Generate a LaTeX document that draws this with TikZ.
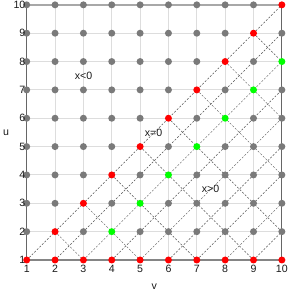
\documentclass[tikz,border=0pt]{standalone}
\usepackage{fontspec}
\setmainfont{Liberation Sans}
\usetikzlibrary{backgrounds}
\definecolor{dotgray}{HTML}{7A7A7A}
\definecolor{dotred}{HTML}{FF0000}
\definecolor{dotgreen}{HTML}{00FF00}
\definecolor{gridc}{HTML}{DDDDDD}
\definecolor{axisc}{HTML}{666666}
\definecolor{topc}{HTML}{A8A8A8}
\definecolor{dashc}{HTML}{505050}
\definecolor{txtc}{HTML}{1A1A1A}
\tikzset{
  dot/.style={circle, inner sep=0pt, minimum size=7pt, draw=none},
  gridline/.style={gridc, line width=1pt},
  axisline/.style={axisc, line width=1pt},
  topline/.style={topc, line width=1.8pt},
  ray/.style={dashc, line width=0.45pt, dash pattern=on 2pt off 1.6pt},
  lbl/.style={text=txtc, font=\fontsize{10.6}{12}\selectfont, inner sep=0pt},
}
\begin{document}
\begin{tikzpicture}
\useasboundingbox (0pt,0pt) rectangle (288pt,291pt);
\begin{scope}[x=28.35pt, y=28.35pt, shift={(-1.65pt,2.65pt)}]
  % dots
  \foreach \v in {1,...,10} {
    \foreach \u in {1,...,10} {
      \def\col{dotgray}
      \ifnum\u=1 \def\col{dotred}\fi
      \ifnum\u=\v \def\col{dotred}\fi
      \pgfmathtruncatemacro\d{\v-\u}
      \ifnum\d=2 \ifnum\u>1 \def\col{dotgreen}\fi\fi
      \node[dot, fill=\col] (p-\v-\u) at (\v,\u) {};
    }
  }
  \begin{scope}[on background layer]
    % grid
    \foreach \i in {2,...,9} {
      \draw[gridline] (\i,1) -- (\i,10);
      \draw[gridline] (1,\i) -- (10,\i);
    }
    % rays of slope +1 from the bottom row
    \foreach \k in {1,...,9} {
      \pgfmathtruncatemacro\e{11-\k}
      \draw[ray] (p-\k-1.center) -- (p-10-\e.center);
    }
    % rays of slope -1 from the diagonal
    \foreach \k in {2,...,9} {
      \pgfmathtruncatemacro\b{2*\k-1}
      \ifnum\b>10
        \pgfmathtruncatemacro\r{2*\k-10}
        \draw[ray] (p-\k-\k.center) -- (p-10-\r.center);
      \else
        \draw[ray] (p-\k-\k.center) -- (p-\b-1.center);
      \fi
    }
    % frame
    \draw[topline] (p-1-10.center) -- (p-10-10.center);
    \draw[axisline, line width=0.8pt] (p-1-1.center) -- (p-1-10.center);
    \draw[axisline, line width=1.3pt, color=axisc!80!white] (p-1-1.center) -- (p-10-1.center);
    \draw[axisline, line width=1.2pt] (p-10-1.center) -- (p-10-10.center);
  \end{scope}
  % tick labels
  \foreach \i in {1,...,10} {
    \node[lbl, anchor=east] (tu-\i) at ([xshift=-1.2pt]p-1-\i.center) {\i};
    \node[lbl] (tv-\i) at ([yshift=-8.8pt]p-\i-1.center) {\i};
  }
\end{scope}
\node[lbl] (ulabel) at (6pt,158pt) {u};
\node[lbl] (vlabel) at (154.2pt,4.6pt) {v};
\node[lbl] (xneg) at (83.5pt,215pt) {x<0};
\node[lbl] (xzero) at (153.5pt,158pt) {x=0};
\node[lbl] (xpos) at (210.5pt,102.5pt) {x>0};
\end{tikzpicture}
\end{document}
